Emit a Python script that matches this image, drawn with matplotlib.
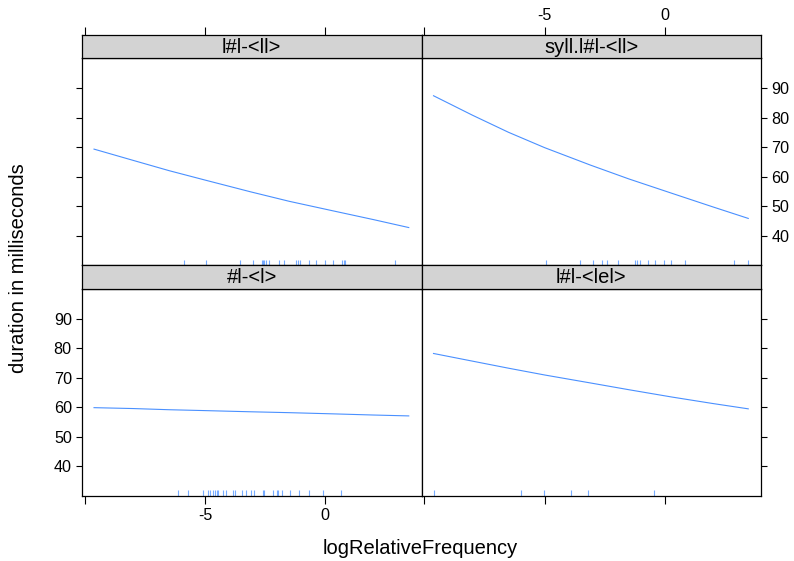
import matplotlib.pyplot as plt
import matplotlib.transforms as mtransforms

plt.rcParams['font.family'] = ['Liberation Sans', 'DejaVu Sans']

# strip labels, placed as in the lattice layout
strip_tl = "l#l-<ll>"
strip_tr = "syll.l#l-<ll>"
strip_bl = "#l-<l>"
strip_br = "l#l-<lel>"

# fitted effect lines (logRelativeFrequency -> duration in ms)
fit_x = [-9.62, -8.0, -6.5, -5.0, -3.1, -1.5, 0.3, 2.0, 3.47]
fit_tl = [69.3, 65.5, 62.0, 58.8, 54.8, 51.6, 48.4, 45.4, 42.7]
fit_tr = [87.4, 80.8, 75.0, 69.8, 63.9, 59.2, 54.3, 49.7, 45.8]
fit_bl = [59.8, 59.5, 59.1, 58.8, 58.4, 58.1, 57.7, 57.3, 57.0]
fit_br = [78.2, 75.6, 73.2, 70.9, 68.2, 65.9, 63.4, 61.2, 59.4]

# rug values (observed logRelativeFrequency)
rug_tl = [-5.88, -4.96, -3.53, -3.00, -2.65, -2.59, -2.55, -2.47, -2.36, -1.93, -1.73,
          -1.21, -1.14, -1.04, -0.68, -0.40, 0.00, 0.30, 0.71, 0.76, 0.83, 2.90]
rug_tr = [-4.96, -3.53, -2.98, -2.61, -2.40, -1.95, -1.23, -1.16, -1.05, -0.69, -0.42,
          -0.02, 0.27, 0.83, 2.89, 3.48]
rug_bl = [-6.11, -5.70, -5.07, -4.87, -4.78, -4.68, -4.58, -4.50, -4.45, -4.24, -4.14,
          -3.84, -3.75, -3.48, -3.30, -3.10, -2.98, -2.59, -2.54, -2.18, -2.01, -1.95,
          -1.80, -1.46, -1.11, -0.69, -0.10, 0.64]
rug_br = [-9.60, -5.98, -5.02, -3.91, -3.20, -0.47]

xticks = [-10, -5, 0]
xticklabels = ["", "-5", "0"]
yticks = [40, 50, 60, 70, 80, 90]
xlim = (-10.12, 4.0)
ylim = (29.9, 100.1)

W, H = 794, 561
fig = plt.figure(figsize=(W / 100, H / 100), dpi=100)

def rect(x0, x1, y0, y1):
    return [x0 / W, 1 - y1 / H, (x1 - x0) / W, (y1 - y0) / H]

xl = (82, 421.5)
xr = (421.5, 761)
row_top = (58.3, 265.3)
row_bot = (289, 495.7)
strip_top = (34.7, 58.3)
strip_bot = (265.3, 289)

line_col = '#4a90ff'
tick_fs = 11.6
lab_fs = 14.5

def panel(xs, ys, fy, rug, left, right, bottom, lab_left, lab_right, lab_bottom):
    ax = fig.add_axes(rect(xs[0], xs[1], ys[0], ys[1]))
    ax.plot(fit_x, fy, color=line_col, lw=0.8)
    trans = mtransforms.blended_transform_factory(ax.transData, ax.transAxes)
    ax.vlines(rug, 0, 0.028, transform=trans, color=line_col, lw=0.8, alpha=0.75)
    ax.set_xlim(*xlim)
    ax.set_ylim(*ylim)
    ax.set_xticks(xticks)
    ax.set_xticklabels(xticklabels)
    ax.set_yticks(yticks)
    ax.tick_params(axis='x', direction='out', length=5.5, width=0.8, labelsize=tick_fs,
                   top=False, bottom=bottom, labeltop=False, labelbottom=lab_bottom, pad=3)
    ax.tick_params(axis='y', direction='out', length=4.3, width=0.8, labelsize=tick_fs,
                   left=left, right=right, labelleft=lab_left, labelright=lab_right, pad=3)
    for s in ax.spines.values():
        s.set_linewidth(0.9)
    return ax

def strip(xs, ys, text, top=False, lab_top=False):
    ax = fig.add_axes(rect(xs[0], xs[1], ys[0], ys[1]))
    ax.set_facecolor('#d3d3d3')
    ax.set_xlim(*xlim)
    ax.set_yticks([])
    if top:
        ax.set_xticks(xticks)
        ax.set_xticklabels(xticklabels)
        ax.tick_params(axis='x', direction='out', length=5.5, width=0.8, labelsize=tick_fs,
                       top=True, bottom=False, labeltop=lab_top, labelbottom=False, pad=3)
    else:
        ax.set_xticks([])
    for s in ax.spines.values():
        s.set_linewidth(0.9)
    ax.text(0.5, 0.47, text, ha='center', va='center', fontsize=lab_fs, transform=ax.transAxes)

panel(xl, row_top, fit_tl, rug_tl, True, False, False, False, False, False)
panel(xr, row_top, fit_tr, rug_tr, False, True, False, False, True, False)
panel(xl, row_bot, fit_bl, rug_bl, True, False, True, True, False, True)
panel(xr, row_bot, fit_br, rug_br, False, True, True, False, False, False)

strip(xl, strip_top, strip_tl, top=True, lab_top=False)
strip(xr, strip_top, strip_tr, top=True, lab_top=True)
strip(xl, strip_bot, strip_bl)
strip(xr, strip_bot, strip_br)

fig.text(420 / W, 1 - 549 / H, "logRelativeFrequency", ha='center', va='center', fontsize=lab_fs)
fig.text(19 / W, 1 - 268 / H, "duration in milliseconds", ha='center', va='center',
         rotation=90, fontsize=lab_fs)

fig.savefig("out.png", dpi=100)
